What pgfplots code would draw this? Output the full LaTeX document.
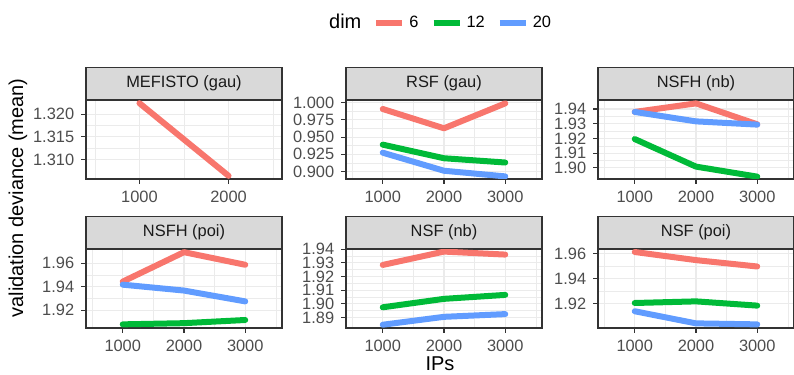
\documentclass[border=0pt]{standalone}
\usepackage{fontspec}
\setmainfont{Liberation Sans}
\usepackage{pgfplots}
\pgfplotsset{compat=1.18}
\definecolor{c6}{HTML}{F8766D}
\definecolor{c12}{HTML}{00BA38}
\definecolor{c20}{HTML}{619CFF}
\definecolor{g20}{HTML}{333333}
\definecolor{g30}{HTML}{4D4D4D}
\definecolor{g10}{HTML}{1A1A1A}
\definecolor{g85}{HTML}{D9D9D9}
\definecolor{g92}{HTML}{EBEBEB}
\pgfplotsset{
  panel/.style={
    scale only axis, width=98pt, height=39.5pt, anchor=south west,
    xmin=400, xmax=3600, xtick={1000,2000,3000},
    minor xtick={500,1500,2500,3500},
    minor y tick num=1,
    grid=both,
    major grid style={draw=g92, line width=0.55pt},
    minor grid style={draw=g92, line width=0.3pt},
    axis line style={draw=g20, line width=0.6pt},
    tick style={draw=g20, line width=0.55pt},
    tick align=outside, tick pos=left,
    major tick length=2.4pt, minor tick length=0pt,
    scaled ticks=false,
    /pgf/number format/assume math mode=true,
    tick label style={font=\fontsize{8.2}{9}\selectfont, text=g30},
    xticklabel style={/pgf/number format/1000 sep={}},
    every axis title shift=0pt,
    title style={at={(0.5,1)}, anchor=south, yshift=0pt, fill=g85, draw=g20, line width=0.6pt,
      minimum width=98pt, minimum height=16pt, inner sep=0pt,
      font=\fontsize{8.2}{9}\selectfont, text=g10},
    every axis plot/.append style={line width=3pt, line cap=round, line join=round, mark=none},
  },
  y3/.style={yticklabel style={/pgf/number format/fixed, /pgf/number format/precision=3, /pgf/number format/fixed zerofill}},
  y2/.style={yticklabel style={/pgf/number format/fixed, /pgf/number format/precision=2, /pgf/number format/fixed zerofill}},
}
\begin{document}
\begin{tikzpicture}
\useasboundingbox (0,0) rectangle (397pt,187.5pt);

% MEFISTO (gau)
\begin{axis}[panel, y3, at={(43pt,98pt)}, title={MEFISTO (gau)},
  xmin=400, xmax=2600, xtick={1000,2000}, minor xtick={500,1500,2500},
  ymin=1.3057, ymax=1.3231, ytick={1.310,1.315,1.320}]
\addplot[c6] coordinates {(1000,1.3224) (2000,1.3064)};
\end{axis}

% RSF (gau)
\begin{axis}[panel, y3, at={(173pt,98pt)}, title={RSF (gau)},
  ymin=0.889, ymax=1.004, ytick={0.900,0.925,0.950,0.975,1.000},
  legend style={at={(0.48,1.975)}, anchor=center, draw=none, fill=none,
    legend columns=4, font=\fontsize{8.2}{9}\selectfont,
    /tikz/every even column/.append style={column sep=4pt}},
  legend image code/.code={\draw[#1, line width=3pt, line cap=butt] (0pt,0pt) -- (13pt,0pt);}]
\addlegendimage{empty legend}
\addlegendentry{\fontsize{10}{12}\selectfont dim}
\addplot[c6] coordinates {(1000,0.9909) (2000,0.9628) (3000,0.9991)};
\addlegendentry{6}
\addplot[c12] coordinates {(1000,0.9390) (2000,0.9192) (3000,0.9130)};
\addlegendentry{12}
\addplot[c20] coordinates {(1000,0.9273) (2000,0.9010) (3000,0.8928)};
\addlegendentry{20}
\end{axis}

% NSFH (nb)
\begin{axis}[panel, y2, at={(299pt,98pt)}, title={NSFH (nb)},
  ymin=1.8925, ymax=1.9461, ytick={1.90,1.91,1.92,1.93,1.94}]
\addplot[c6] coordinates {(1000,1.9380) (2000,1.9438) (3000,1.9296)};
\addplot[c12] coordinates {(1000,1.9196) (2000,1.9009) (3000,1.8941)};
\addplot[c20] coordinates {(1000,1.9380) (2000,1.9316) (3000,1.9294)};
\end{axis}

% NSFH (poi)
\begin{axis}[panel, y2, at={(43pt,23.5pt)}, title={NSFH (poi)},
  ymin=1.9049, ymax=1.9720, ytick={1.92,1.94,1.96}]
\addplot[c6] coordinates {(1000,1.9443) (2000,1.9693) (3000,1.9586)};
\addplot[c12] coordinates {(1000,1.9080) (2000,1.9090) (3000,1.9117)};
\addplot[c20] coordinates {(1000,1.9417) (2000,1.9367) (3000,1.9275)};
\end{axis}

% NSF (nb)
\begin{axis}[panel, y2, at={(173pt,23.5pt)}, title={NSF (nb)},
  ymin=1.8822, ymax=1.9402, ytick={1.89,1.90,1.91,1.92,1.93,1.94}]
\addplot[c6] coordinates {(1000,1.9285) (2000,1.9383) (3000,1.9361)};
\addplot[c12] coordinates {(1000,1.8974) (2000,1.9036) (3000,1.9065)};
\addplot[c20] coordinates {(1000,1.8846) (2000,1.8904) (3000,1.8924)};
\end{axis}

% NSF (poi)
\begin{axis}[panel, y2, at={(299pt,23.5pt)}, title={NSF (poi)},
  ymin=1.9005, ymax=1.9637, ytick={1.92,1.94,1.96}]
\addplot[c6] coordinates {(1000,1.9613) (2000,1.9548) (3000,1.9497)};
\addplot[c12] coordinates {(1000,1.9205) (2000,1.9218) (3000,1.9184)};
\addplot[c20] coordinates {(1000,1.9139) (2000,1.9042) (3000,1.9034)};
\end{axis}

\node[rotate=90, font=\fontsize{10}{12}\selectfont] at (9pt,88.5pt) {validation deviance (mean)};
\node[font=\fontsize{10}{12}\selectfont] at (220pt,5.5pt) {IPs};
\end{tikzpicture}
\end{document}
